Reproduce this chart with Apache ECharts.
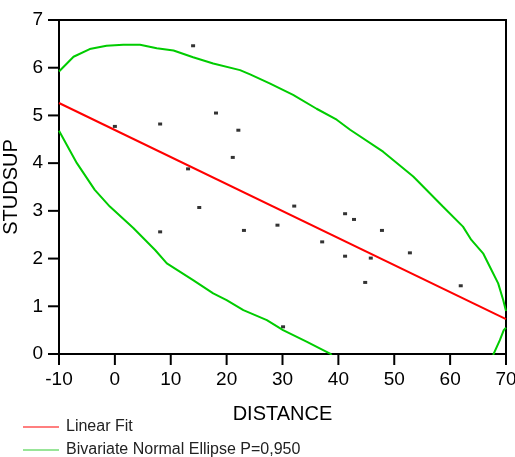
<!DOCTYPE html>
<html>
<head>
<meta charset="utf-8">
<script src="https://cdn.jsdelivr.net/npm/echarts@6/dist/echarts.min.js"></script>
<style>
  html, body { margin: 0; padding: 0; background: #fff; }
  #chart { width: 515px; height: 457px; }
</style>
</head>
<body>
<div id="chart"></div>
<script>
// observations: [DISTANCE, STUDSUP]
const points = [
  [0, 4.77], [8.1, 4.82], [8.1, 2.56], [13.1, 3.88], [14.0, 6.46],
  [15.1, 3.07], [18.1, 5.05], [21.1, 4.12], [22.1, 4.69], [23.1, 2.59],
  [29.1, 2.70], [30.1, 0.57], [32.1, 3.10], [37.1, 2.35], [41.2, 2.94],
  [41.2, 2.05], [42.8, 2.82], [44.8, 1.50], [45.8, 2.01], [47.8, 2.59],
  [52.8, 2.12], [61.9, 1.43]
]

// linear fit, read at the two plot edges
const fitLine = [[-10, 5.26], [70, 0.73]]

// ellipse, split where it leaves the plot
const ellipseUpper = [
  [-10, 5.92], [-9.8, 5.95], [-7.4, 6.23], [-4.5, 6.39], [-1.5, 6.46],
  [1.5, 6.48], [4.5, 6.48], [7.5, 6.41], [10.5, 6.36], [14.0, 6.22],
  [17.6, 6.09], [22.4, 5.95], [24.2, 5.86], [27.7, 5.67], [31.9, 5.43],
  [36.1, 5.14], [39.7, 4.91], [42.1, 4.70], [48.0, 4.24], [53.4, 3.72],
  [58.7, 3.09], [62.3, 2.67], [63.8, 2.39], [65.9, 2.11], [67.4, 1.76],
  [68.6, 1.48], [69.5, 1.13], [70, 0.90]
]
const ellipseLowerRight = [[70, 0.55], [69.6, 0.50], [68.9, 0.29], [67.7, -0.02]]
const ellipseLower = [
  [-10, 4.68], [-6.8, 4.0], [-3.6, 3.44], [-0.9, 3.09], [3.3, 2.64],
  [7.2, 2.18], [9.3, 1.90], [14.0, 1.55], [17.6, 1.27], [20.0, 1.13],
  [23.0, 0.92], [27.2, 0.71], [30.1, 0.50], [34.3, 0.26], [38.5, 0.01], [38.8, -0.02]
]

const xTickValues = [-10, 0, 10, 20, 30, 40, 50, 60, 70]
const yTickValues = [0, 1, 2, 3, 4, 5, 6, 7]

const RED = '#ff0000'
const GREEN = '#00cc00'
const FONT = 'Liberation Sans, Arial, sans-serif'

const chart = echarts.init(document.getElementById('chart'))

const ellipseName = 'Bivariate Normal Ellipse P=0,950'

// one legend per row, so nothing wraps into columns
const legendRow = (name, color, top) => ({
  left: 23,
  top: top,
  padding: 0,
  itemWidth: 36,
  itemHeight: 1,
  icon: 'rect',
  data: [{ name: name, itemStyle: { color: color } }],
  textStyle: { fontFamily: FONT, fontSize: 16, color: '#222', padding: [0, 0, 0, 2] }
})

const ellipsePart = (data) => ({
  name: ellipseName,
  type: 'line',
  data: data,
  showSymbol: false,
  color: GREEN,
  lineStyle: { color: GREEN, width: 2 },
  silent: true
})

const option = {
  animation: false,
  backgroundColor: '#fff',
  grid: {
    left: 59,
    right: 9,
    top: 20,
    bottom: 103,
    outerBoundsMode: 'none',
    containLabel: false,
    show: true,
    borderColor: '#000',
    borderWidth: 2,
    backgroundColor: 'transparent'
  },
  legend: [
    legendRow('Linear Fit', RED, 419),
    legendRow(ellipseName, '#33cc33', 442)
  ],
  xAxis: {
    type: 'value',
    min: xTickValues[0],
    max: xTickValues[xTickValues.length - 1],
    interval: 10,
    name: 'DISTANCE',
    nameLocation: 'middle',
    nameGap: 50,
    nameTextStyle: { fontFamily: FONT, fontSize: 20, color: '#000' },
    axisLine: { show: true, onZero: false, lineStyle: { color: '#000', width: 2 } },
    axisTick: { show: false },
    axisLabel: { fontFamily: FONT, fontSize: 19, color: '#000', margin: 16 },
    splitLine: { show: false }
  },
  yAxis: {
    type: 'value',
    min: yTickValues[0],
    max: yTickValues[yTickValues.length - 1],
    interval: 1,
    name: 'STUDSUP',
    nameLocation: 'middle',
    nameGap: 32,
    nameRotate: 90,
    nameTextStyle: { fontFamily: FONT, fontSize: 20, color: '#000' },
    axisLine: { show: true, onZero: false, lineStyle: { color: '#000', width: 2 } },
    axisTick: { show: false },
    axisLabel: { fontFamily: FONT, fontSize: 19, color: '#000', margin: 16 },
    splitLine: { show: false }
  },
  series: [
    ellipsePart(ellipseUpper),
    ellipsePart(ellipseLowerRight),
    ellipsePart(ellipseLower),
    {
      name: 'Linear Fit',
      type: 'line',
      data: fitLine,
      showSymbol: false,
      color: RED,
      lineStyle: { color: RED, width: 2 },
      silent: true
    },
    {
      name: 'points',
      type: 'scatter',
      data: points,
      symbol: 'rect',
      symbolSize: [4, 3],
      itemStyle: { color: '#000' },
      silent: true
    }
  ]
}

chart.setOption(option)

// outward tick marks, placed from the axis scale once the grid is laid out
const tickLine = (value, dx, dy) => {
  const p = chart.convertToPixel({ gridIndex: 0 }, value)
  return {
    type: 'line',
    silent: true,
    z: 10,
    shape: { x1: p[0], y1: p[1], x2: p[0] + dx, y2: p[1] + dy },
    style: { stroke: '#000', lineWidth: 2 }
  }
}

chart.setOption({
  graphic: [
    ...xTickValues.map(v => tickLine([v, yTickValues[0]], 0, 11)),
    ...yTickValues.map(v => tickLine([xTickValues[0], v], -11, 0))
  ]
})
</script>
</body>
</html>
